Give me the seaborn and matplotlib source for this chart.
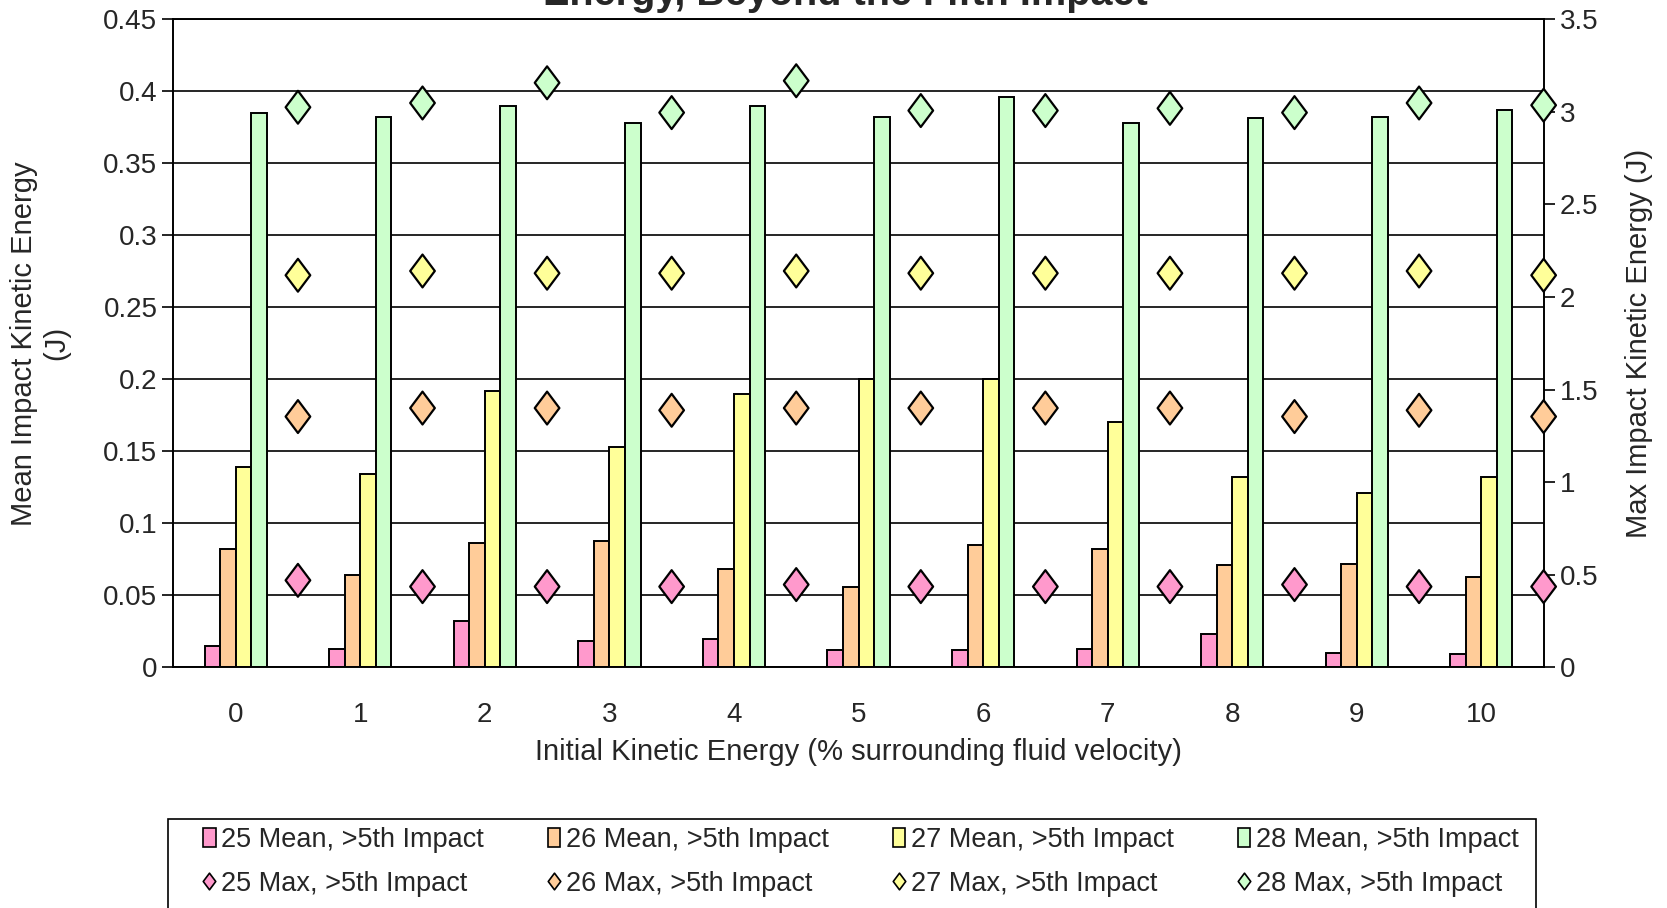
import numpy as np
import pandas as pd
import matplotlib
matplotlib.use("Agg")
import matplotlib.pyplot as plt
from matplotlib.path import Path
from matplotlib.patches import Patch, Rectangle
from matplotlib.lines import Line2D
import seaborn as sns

# ── DATA ──────────────────────────────────────────────────────────────
categories = [0, 1, 2, 3, 4, 5, 6, 7, 8, 9, 10]

mean_25 = [0.015, 0.0125, 0.032, 0.018, 0.020, 0.012, 0.012, 0.013, 0.023, 0.010, 0.009]
mean_26 = [0.082, 0.064, 0.086, 0.088, 0.068, 0.056, 0.085, 0.082, 0.071, 0.072, 0.063]
mean_27 = [0.139, 0.134, 0.192, 0.153, 0.190, 0.200, 0.200, 0.170, 0.132, 0.121, 0.132]
mean_28 = [0.385, 0.382, 0.390, 0.378, 0.390, 0.382, 0.396, 0.378, 0.381, 0.382, 0.387]

max_25 = [0.47, 0.436, 0.436, 0.436, 0.447, 0.436, 0.436, 0.436, 0.447, 0.436, 0.436]
max_26 = [1.354, 1.40, 1.40, 1.388, 1.40, 1.40, 1.40, 1.40, 1.354, 1.388, 1.354]
max_27 = [2.117, 2.14, 2.128, 2.128, 2.14, 2.128, 2.128, 2.128, 2.128, 2.14, 2.117]
max_28 = [3.024, 3.047, 3.156, 2.995, 3.167, 3.006, 3.006, 3.018, 2.995, 3.047, 3.035]

mean_names = ["25 Mean, >5th Impact", "26 Mean, >5th Impact",
              "27 Mean, >5th Impact", "28 Mean, >5th Impact"]
max_names = ["25 Max, >5th Impact", "26 Max, >5th Impact",
             "27 Max, >5th Impact", "28 Max, >5th Impact"]
colors = ["#FF99CC", "#FFCC99", "#FFFF99", "#CCFFCC"]

# ── LONG TABLES ───────────────────────────────────────────────────────
df_mean = pd.DataFrame({
    "cat": np.tile(categories, 4),
    "series": np.repeat(mean_names, len(categories)),
    "value": np.concatenate([mean_25, mean_26, mean_27, mean_28]),
})
# max markers sit on the category boundaries (Excel secondary axis)
df_max = pd.DataFrame({
    "pos": np.tile(np.arange(len(categories)) + 0.5, 4),
    "series": np.repeat(max_names, len(categories)),
    "value": np.concatenate([max_25, max_26, max_27, max_28]),
})

# diamond marker, a bit taller than wide
diamond = Path([(0, 1), (0.75, 0), (0, -1), (-0.75, 0), (0, 1)],
               [Path.MOVETO, Path.LINETO, Path.LINETO, Path.LINETO, Path.CLOSEPOLY])

sns.set_style("white")
plt.rcParams["font.family"] = ["Liberation Sans", "DejaVu Sans"]

fig = plt.figure(figsize=(16.67, 9.08), dpi=100)
ax = fig.add_axes([0.104, 0.265, 0.822, 0.714])

sns.barplot(data=df_mean, x="cat", y="value", hue="series", hue_order=mean_names,
            palette=dict(zip(mean_names, colors)), saturation=1, width=0.5, gap=0,
            edgecolor="black", linewidth=1.4, legend=False, ax=ax, zorder=3)

ax.set_ylim(0, 0.45)
ax.set_yticks(np.arange(0, 0.451, 0.05))
ax.set_yticklabels(["0", "0.05", "0.1", "0.15", "0.2", "0.25", "0.3", "0.35", "0.4", "0.45"])
ax.yaxis.grid(True, color="black", linewidth=1.2)
ax.set_axisbelow(True)
ax.set_xlim(-0.5, len(categories) - 0.5)

# category labels centred, tick marks on the boundaries
ax.set_xticks(range(len(categories)))
ax.set_xticklabels([str(c) for c in categories])
ax.set_xticks(np.arange(-0.5, len(categories), 1.0), minor=True)
ax.tick_params(axis="x", which="major", length=0, labelsize=20, pad=25)
ax.tick_params(axis="x", which="minor", length=10, width=1.2, color="black", direction="out")
ax.tick_params(axis="y", which="major", length=8, width=1.2, color="black",
               direction="out", labelsize=20, left=True)

ax.set_xlabel("Initial Kinetic Energy (% surrounding fluid velocity)", fontsize=21, labelpad=7)
ax.set_ylabel("Mean Impact Kinetic Energy\n(J)", fontsize=21, labelpad=24)

for s in ax.spines.values():
    s.set_color("black")
    s.set_linewidth(1.2)

# ── SECONDARY AXIS: max values ────────────────────────────────────────
ax2 = ax.twinx()
sns.scatterplot(data=df_max, x="pos", y="value", hue="series", hue_order=max_names,
                palette=dict(zip(max_names, colors)), marker=diamond, s=560,
                edgecolor="black", linewidth=1.6, legend=False, ax=ax2, zorder=4,
                clip_on=False)
ax2.set_xlim(-0.5, len(categories) - 0.5)
ax2.set_ylim(0, 3.5)
ax2.set_yticks(np.arange(0, 3.51, 0.5))
ax2.set_yticklabels(["0", "0.5", "1", "1.5", "2", "2.5", "3", "3.5"])
ax2.tick_params(axis="y", length=8, width=1.2, color="black", direction="out",
                labelsize=20, right=True)
ax2.set_ylabel("Max Impact Kinetic Energy (J)", fontsize=21, labelpad=19)
ax2.grid(False)
for s in ax2.spines.values():
    s.set_color("black")
    s.set_linewidth(1.2)

# title – top line falls outside the canvas as in the original
fig.text(0.507, 0.994, "Energy, Beyond the Fifth Impact", ha="center", va="baseline",
         fontsize=28.5, fontweight="bold")

# ── LEGEND ────────────────────────────────────────────────────────────
fig.patches.append(Rectangle((0.1008, -0.01), 0.8206, 0.108, transform=fig.transFigure,
                             facecolor="white", edgecolor="black", linewidth=1.2))
handles = []
for mn, mx, c in zip(mean_names, max_names, colors):
    handles.append(Patch(facecolor=c, edgecolor="black", linewidth=1.2, label=mn))
    handles.append(Line2D([], [], linestyle="none", marker=diamond, markersize=12,
                          markerfacecolor=c, markeredgecolor="black",
                          markeredgewidth=1.2, label=mx))
leg = fig.legend(handles=handles, ncol=4, loc="upper left",
                 bbox_to_anchor=(0.122, 0.0895), bbox_transform=fig.transFigure,
                 fontsize=19.5, frameon=False, borderpad=0, borderaxespad=0,
                 handlelength=0.45, handleheight=0.7, handletextpad=0.2,
                 columnspacing=2.38, labelspacing=0.66)

fig.savefig("out.png", dpi=100)
